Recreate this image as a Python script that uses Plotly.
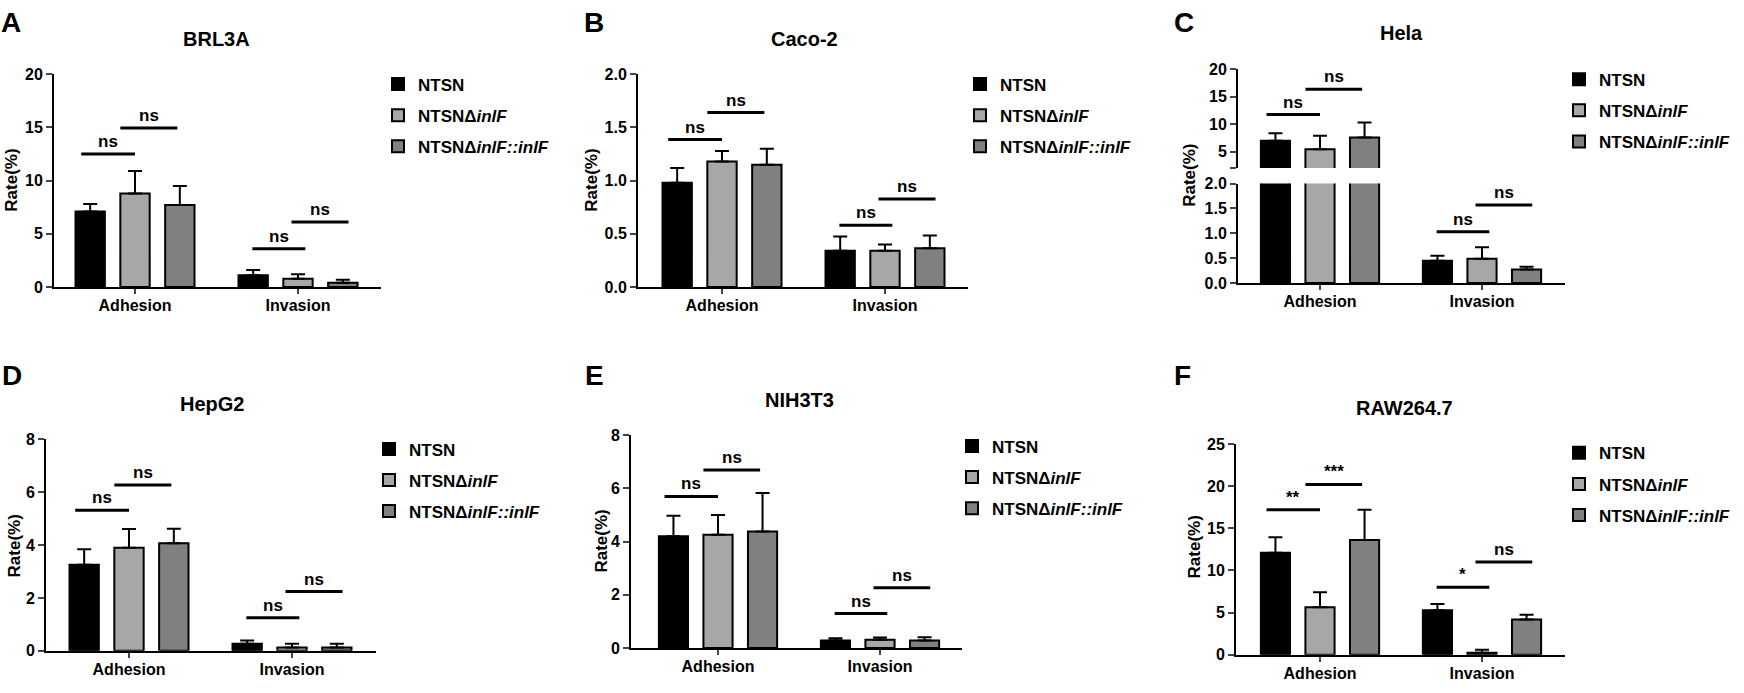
import plotly.graph_objects as go

W, H = 1744, 693

categories = ["Adhesion", "Invasion"]
strains = ["NTSN", "NTSNΔ<i>inlF</i>", "NTSNΔ<i>inlF::inlF</i>"]
bar_colors = ["#000000", "#A7A7AA", "#808080"]

titles = ["BRL3A", "Caco-2", "Hela", "HepG2", "NIH3T3", "RAW264.7"]
letters = ["A", "B", "C", "D", "E", "F"]

# mean rate (%) and upper SD, rows = strains, cols = Adhesion / Invasion
brl3a_mean = [[7.1, 1.1], [8.8, 0.77], [7.7, 0.4]]
brl3a_sd = [[0.7, 0.5], [2.1, 0.43], [1.8, 0.27]]
caco2_mean = [[0.98, 0.34], [1.18, 0.34], [1.15, 0.365]]
caco2_sd = [[0.14, 0.135], [0.10, 0.06], [0.15, 0.12]]
hela_mean = [[6.97, 0.45], [5.42, 0.49], [7.57, 0.275]]
hela_sd = [[1.38, 0.10], [2.45, 0.23], [2.73, 0.055]]
hepg2_mean = [[3.25, 0.27], [3.9, 0.13], [4.07, 0.13]]
hepg2_sd = [[0.59, 0.12], [0.7, 0.14], [0.54, 0.14]]
nih3t3_mean = [[4.2, 0.28], [4.26, 0.31], [4.38, 0.28]]
nih3t3_sd = [[0.77, 0.08], [0.74, 0.08], [1.45, 0.12]]
raw_mean = [[12.1, 5.29], [5.63, 0.23], [13.6, 4.17]]
raw_sd = [[1.83, 0.73], [1.77, 0.35], [3.6, 0.58]]

# significance bars: height per category (lower bar, upper bar) and labels
brl3a_sig = [[12.5, 14.95], [3.6, 6.1]]
caco2_sig = [[1.387, 1.64], [0.58, 0.827]]
hela_sig = [[11.75, 16.4], [1.03, 1.567]]
hepg2_sig = [[5.31, 6.27], [1.25, 2.24]]
nih3t3_sig = [[5.7, 6.69], [1.29, 2.26]]
raw_sig = [[17.2, 20.2], [8.0, 11.0]]
ns_labels = [["ns", "ns"], ["ns", "ns"]]
raw_labels = [["**", "***"], ["*", "ns"]]

means = [brl3a_mean, caco2_mean, hela_mean, hepg2_mean, nih3t3_mean, raw_mean]
sds = [brl3a_sd, caco2_sd, hela_sd, hepg2_sd, nih3t3_sd, raw_sd]
sigs = [brl3a_sig, caco2_sig, hela_sig, hepg2_sig, nih3t3_sig, raw_sig]
sig_labels = [ns_labels] * 5 + [raw_labels]

y_ranges = [[0, 20], [0, 2], [0, 2], [0, 8], [0, 8], [0, 25]]
y_dticks = [5, 0.5, 0.5, 2, 2, 5]

# pixel geometry: y-axis x, x-axis end, Adhesion tick, Invasion tick, top, bottom
geom = [
    (54, 381, 135, 298, 68, 286),
    (638, 968, 722, 885, 68, 286),
    (1238, 1565, 1320, 1482, 180, 282),
    (46, 376, 129, 292, 442, 659),
    (631, 962, 718, 880, 438, 656),
    (1236, 1565, 1320, 1482, 447, 663),
]
hela_upper = (63, 164)  # broken axis upper part (px)

title_pos = [(216, 32), (804, 32), (1401, 26), (212, 406), (799, 402), (1404, 410)]
letter_pos = [(11, 15), (594, 15), (1184, 15), (12, 377), (594, 377), (1182, 377)]
rate_pos = [(12, 177), (592, 177), (1190, 172), (14, 552), (602, 547), (1194, 553)]
legend_pos = [(378, 60), (960, 60), (1559, 55), (369, 434), (952, 431), (1559, 438)]

offsets = [-0.275, 0.0, 0.275]
sig_spans = [[(-0.33, 0.0), (-0.09, 0.26)], [(-0.28, 0.045), (-0.04, 0.31)]]

FONT = "Liberation Sans, Arial, sans-serif"


def px(x, y):
    return x / W, 1 - y / H


fig = go.Figure()
layout = dict(
    width=W, height=H, margin=dict(l=0, r=0, t=0, b=0),
    plot_bgcolor="white", paper_bgcolor="white", barmode="overlay",
    font=dict(family=FONT, color="black", size=16, weight="bold"),
)
annotations = []

for p in range(6):
    left, right, t0, t1, top, bottom = geom[p]
    ppu = t1 - t0
    xr = [(left - t0) / ppu, (right - t0) / ppu]
    xa = "xaxis" if p == 0 else f"xaxis{p + 1}"
    ya = "yaxis" if p == 0 else f"yaxis{p + 1}"
    xref, yref = f"x{p + 1}", f"y{p + 1}"
    leg = "legend" if p == 0 else f"legend{p + 1}"

    layout[xa] = dict(
        domain=[left / W, right / W], range=xr, anchor=yref,
        tickvals=[0, 1], ticktext=categories, ticks="outside", ticklen=5,
        tickwidth=2, showline=True, linewidth=2, linecolor="black",
        showgrid=False, zeroline=False, tickfont=dict(size=16),
        ticklabelstandoff=-2,
    )
    yd = y_dticks[p]
    layout[ya] = dict(
        domain=[1 - bottom / H, 1 - top / H], range=y_ranges[p], anchor=xref,
        dtick=yd, ticks="outside", ticklen=6, tickwidth=2, showline=True,
        linewidth=2, linecolor="black", showgrid=False, zeroline=False,
        tickformat=".1f" if yd < 1 else "d", tickfont=dict(size=16),
    )
    y_targets = [yref]
    if p == 2:
        layout["yaxis7"] = dict(
            domain=[1 - hela_upper[1] / H, 1 - hela_upper[0] / H], range=[2, 20],
            anchor=xref, tickvals=[2, 5, 10, 15, 20],
            ticktext=["", "5", "10", "15", "20"], ticks="outside", ticklen=6,
            tickwidth=2, showline=True, linewidth=2, linecolor="black",
            showgrid=False, zeroline=False, tickfont=dict(size=16),
        )
        y_targets = [yref, "y7"]

    for k, yt in enumerate(y_targets):
        for s in range(3):
            fig.add_trace(go.Bar(
                x=[g + offsets[s] for g in range(2)], y=means[p][s], width=0.18,
                name=strains[s], marker=dict(color=bar_colors[s], line=dict(color="black", width=2)),
                error_y=dict(type="data", array=sds[p][s], arrayminus=[0, 0], symmetric=False,
                             color="black", thickness=2, width=7),
                xaxis=xref, yaxis=yt, legend=leg, legendgroup=f"p{p}s{s}",
                showlegend=(k == 0),
            ))

    for g in range(2):
        for j in range(2):
            a, b = sig_spans[g][j]
            h = sigs[p][g][j]
            yt = "y7" if (p == 2 and g == 0) else yref
            fig.add_trace(go.Scatter(
                x=[g + a, g + b], y=[h, h], mode="lines", line=dict(color="black", width=3),
                xaxis=xref, yaxis=yt, showlegend=False, hoverinfo="skip",
            ))
            annotations.append(dict(
                x=g + (a + b) / 2, y=h, xref=xref, yref=yt, text=sig_labels[p][g][j],
                showarrow=False, xanchor="center", yanchor="bottom", yshift=1,
                font=dict(size=17),
            ))

    lx, ly = px(*legend_pos[p])
    layout[leg] = dict(
        x=lx, y=ly, xanchor="left", yanchor="top", bgcolor="rgba(0,0,0,0)",
        font=dict(size=17), traceorder="grouped", tracegroupgap=6,
    )

    for pos, txt, size, angle in [
        (title_pos[p], titles[p], 20, 0),
        (letter_pos[p], letters[p], 28, 0),
        (rate_pos[p], "Rate(%)", 17, -90),
    ]:
        ax_, ay_ = px(*pos)
        annotations.append(dict(
            x=ax_, y=ay_, xref="paper", yref="paper", text=txt, textangle=angle,
            showarrow=False, xanchor="center", yanchor="middle", font=dict(size=size),
        ))

layout["annotations"] = annotations
fig.update_layout(**layout)
fig.write_html(
    "out.html",
    config={"displayModeBar": False},
    post_script="document.body.style.margin='0px';document.body.style.overflow='hidden';",
)
